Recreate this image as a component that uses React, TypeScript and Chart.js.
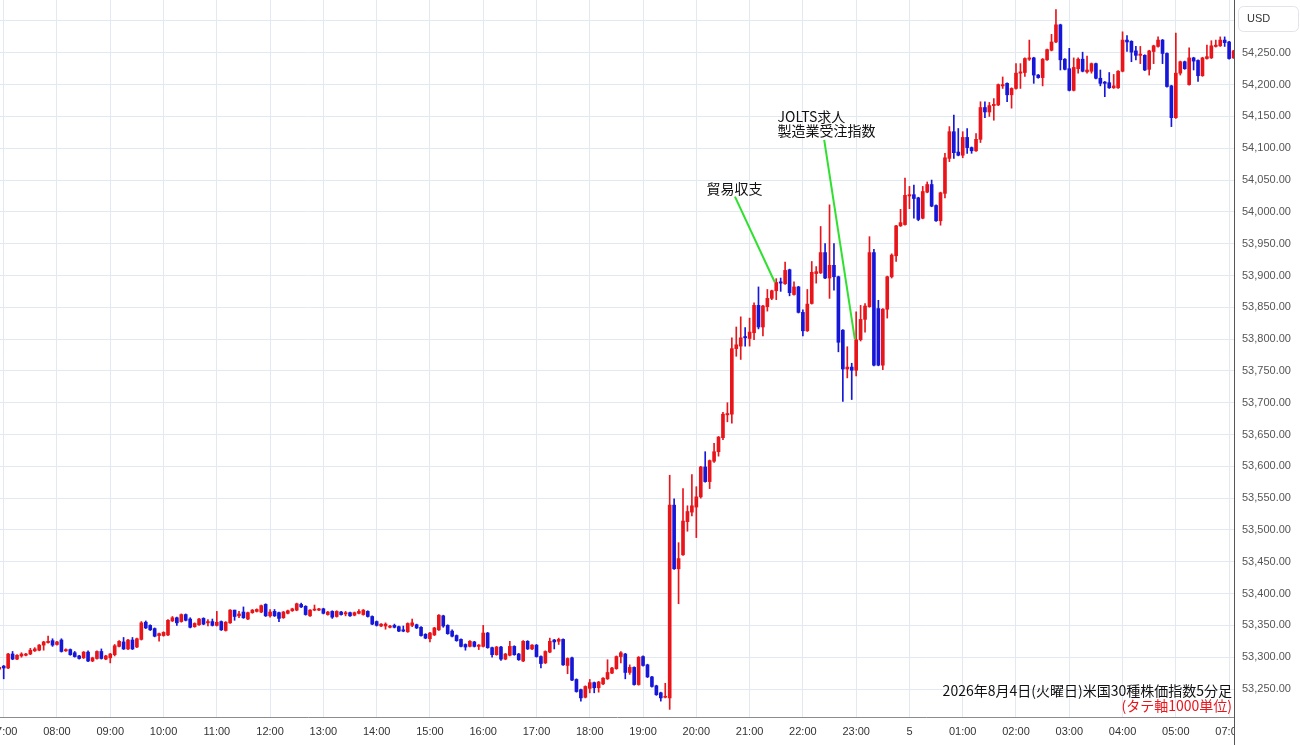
import React, { useEffect, useRef } from 'react';
import { Chart, registerables } from 'chart.js';

Chart.register(...registerables);

// 5-minute bars of the US 30 index, first bar = 06:55 (bar number -1 relative to 07:00)
const FIRST_BAR = -1;

const opens = [
  53281, 53286, 53283, 53305, 53297, 53302, 53303, 53305, 53310, 53311,
  53319, 53323, 53326, 53320, 53327, 53310, 53312, 53307, 53302, 53299,
  53308, 53294, 53298, 53309, 53297, 53299, 53304, 53317, 53324, 53313,
  53327, 53316, 53328, 53355, 53350, 53345, 53334, 53334, 53335, 53357,
  53362, 53356, 53367, 53360, 53348, 53351, 53361, 53354, 53356, 53350,
  53356, 53342, 53354, 53374, 53365, 53371, 53360, 53370, 53372, 53371,
  53383, 53365, 53372, 53370, 53362, 53369, 53373, 53374, 53383, 53380,
  53365, 53374, 53374, 53376, 53367, 53372, 53364, 53371, 53368, 53370,
  53366, 53369, 53367, 53372, 53364, 53356, 53349, 53349, 53347, 53350,
  53348, 53343, 53340, 53350, 53351, 53347, 53336, 53329, 53335, 53343,
  53365, 53350, 53341, 53334, 53328, 53320, 53317, 53324, 53317, 53317,
  53338, 53315, 53304, 53316, 53297, 53303, 53317, 53305, 53294, 53325,
  53313, 53319, 53301, 53291, 53308, 53327, 53325, 53328, 53287, 53299,
  53265, 53249, 53237, 53251, 53260, 53252, 53258, 53266, 53275, 53282,
  53301, 53305, 53276, 53284, 53257, 53301, 53288, 53269, 53255, 53244,
  53237, 53236, 53539, 53439, 53461, 53513, 53528, 53536, 53552, 53599,
  53576, 53608, 53623, 53645, 53681, 53682, 53785, 53789, 53804, 53801,
  53810, 53853, 53819, 53851, 53864, 53876, 53890, 53887, 53909, 53870,
  53882, 53842, 53813, 53856, 53903, 53904, 53936, 53896, 53916, 53898,
  53814, 53753, 53756, 53751, 53799, 53831, 53851, 53936, 53848, 53759,
  53847, 53898, 53931, 53978, 53980, 54025, 54027, 54022, 53990, 54031,
  54043, 54010, 53986, 54029, 54084, 54126, 54094, 54089, 54117, 54101,
  54096, 54114, 54164, 54157, 54167, 54168, 54198, 54202, 54184, 54194,
  54218, 54219, 54240, 54242, 54215, 54211, 54239, 54254, 54267, 54294,
  54240, 54225, 54191, 54225, 54240, 54220, 54221, 54233, 54210, 54204,
  54203, 54195, 54195, 54221, 54270, 54268, 54253, 54246, 54246, 54224,
  54252, 54260, 54270, 54249, 54198, 54148, 54218, 54236, 54200, 54242,
  54238, 54214, 54241, 54242, 54260, 54261, 54270, 54267, 54242,
];

const highs = [
  53285, 53287, 53306, 53309, 53304, 53307, 53306, 53314, 53315, 53320,
  53325, 53333, 53329, 53325, 53329, 53313, 53313, 53309, 53303, 53309,
  53310, 53300, 53310, 53313, 53303, 53306, 53320, 53326, 53331, 53328,
  53331, 53330, 53356, 53357, 53351, 53346, 53338, 53340, 53359, 53364,
  53363, 53368, 53368, 53362, 53354, 53361, 53362, 53359, 53360, 53372,
  53357, 53356, 53375, 53374, 53372, 53379, 53371, 53375, 53376, 53382,
  53384, 53375, 53375, 53371, 53372, 53374, 53377, 53385, 53385, 53381,
  53375, 53382, 53377, 53377, 53372, 53373, 53373, 53372, 53372, 53371,
  53371, 53375, 53375, 53373, 53365, 53357, 53353, 53354, 53350, 53352,
  53349, 53349, 53354, 53360, 53352, 53348, 53337, 53339, 53347, 53367,
  53366, 53351, 53343, 53335, 53329, 53321, 53326, 53325, 53320, 53350,
  53339, 53316, 53317, 53317, 53306, 53325, 53318, 53306, 53326, 53326,
  53320, 53320, 53302, 53310, 53330, 53328, 53330, 53329, 53299, 53300,
  53266, 53250, 53255, 53265, 53261, 53262, 53268, 53296, 53284, 53302,
  53309, 53306, 53288, 53285, 53301, 53302, 53289, 53270, 53256, 53245,
  53259, 53586, 53549, 53480, 53565, 53538, 53587, 53568, 53600, 53623,
  53610, 53636, 53647, 53685, 53700, 53802, 53819, 53835, 53818, 53833,
  53857, 53882, 53853, 53878, 53877, 53895, 53896, 53921, 53910, 53890,
  53883, 53846, 53878, 53922, 53914, 53977, 53950, 54011, 53950, 53899,
  53815, 53788, 53762, 53843, 53853, 53856, 53961, 53941, 53861, 53848,
  53899, 53934, 53979, 54004, 54053, 54040, 54042, 54023, 54040, 54047,
  54050, 54011, 54031, 54092, 54134, 54152, 54131, 54126, 54131, 54102,
  54123, 54173, 54173, 54172, 54178, 54201, 54212, 54203, 54195, 54233,
  54233, 54242, 54270, 54243, 54216, 54241, 54256, 54279, 54318, 54295,
  54241, 54257, 54242, 54242, 54251, 54245, 54234, 54234, 54223, 54205,
  54219, 54216, 54222, 54283, 54277, 54269, 54260, 54260, 54247, 54254,
  54262, 54275, 54271, 54250, 54199, 54281, 54237, 54237, 54258, 54243,
  54239, 54243, 54262, 54269, 54270, 54275, 54275, 54268, 54254,
];

const lows = [
  53280, 53266, 53282, 53296, 53296, 53300, 53302, 53304, 53309, 53310,
  53311, 53322, 53317, 53319, 53308, 53309, 53303, 53300, 53297, 53298,
  53293, 53293, 53297, 53297, 53296, 53291, 53302, 53316, 53312, 53312,
  53312, 53315, 53327, 53345, 53342, 53332, 53325, 53333, 53334, 53356,
  53350, 53355, 53357, 53346, 53347, 53350, 53351, 53349, 53349, 53349,
  53342, 53341, 53353, 53358, 53362, 53361, 53359, 53369, 53371, 53370,
  53364, 53363, 53364, 53356, 53361, 53368, 53372, 53373, 53378, 53366,
  53364, 53373, 53373, 53368, 53366, 53361, 53363, 53366, 53365, 53364,
  53365, 53368, 53366, 53363, 53351, 53349, 53348, 53344, 53346, 53346,
  53340, 53340, 53339, 53348, 53345, 53333, 53329, 53324, 53334, 53342,
  53347, 53336, 53332, 53325, 53316, 53311, 53316, 53316, 53312, 53316,
  53314, 53300, 53303, 53295, 53296, 53302, 53303, 53295, 53293, 53312,
  53312, 53300, 53283, 53290, 53307, 53313, 53320, 53287, 53274, 53263,
  53245, 53231, 53236, 53244, 53244, 53245, 53257, 53265, 53274, 53281,
  53291, 53266, 53273, 53256, 53256, 53286, 53268, 53253, 53240, 53231,
  53236, 53218, 53438, 53384, 53460, 53498, 53522, 53488, 53550, 53575,
  53565, 53606, 53616, 53642, 53670, 53668, 53773, 53768, 53789, 53789,
  53799, 53816, 53805, 53844, 53862, 53862, 53875, 53886, 53868, 53869,
  53841, 53805, 53812, 53855, 53888, 53903, 53895, 53864, 53877, 53780,
  53702, 53739, 53705, 53742, 53797, 53811, 53850, 53758, 53758, 53752,
  53833, 53896, 53922, 53977, 53979, 54005, 53990, 53986, 53989, 54030,
  54008, 53985, 53979, 54022, 54079, 54084, 54088, 54085, 54092, 54092,
  54095, 54109, 54148, 54150, 54144, 54167, 54194, 54173, 54163, 54193,
  54194, 54213, 54238, 54202, 54210, 54198, 54238, 54253, 54266, 54223,
  54223, 54190, 54190, 54218, 54220, 54218, 54218, 54209, 54198, 54181,
  54194, 54194, 54194, 54220, 54252, 54236, 54239, 54233, 54222, 54215,
  54233, 54259, 54233, 54196, 54134, 54147, 54215, 54224, 54199, 54223,
  54205, 54213, 54240, 54241, 54259, 54260, 54260, 54240, 54241,
];

const closes = [
  53284, 53283, 53305, 53297, 53303, 53305, 53305, 53311, 53313, 53319,
  53324, 53325, 53319, 53324, 53309, 53312, 53304, 53301, 53298, 53308,
  53294, 53299, 53309, 53298, 53302, 53305, 53318, 53325, 53313, 53327,
  53313, 53329, 53354, 53346, 53343, 53333, 53337, 53339, 53358, 53362,
  53354, 53367, 53358, 53347, 53353, 53360, 53352, 53356, 53350, 53355,
  53343, 53355, 53374, 53364, 53368, 53362, 53370, 53374, 53375, 53381,
  53365, 53371, 53365, 53361, 53371, 53373, 53376, 53384, 53379, 53367,
  53374, 53375, 53376, 53369, 53371, 53363, 53372, 53367, 53370, 53365,
  53370, 53372, 53374, 53364, 53352, 53350, 53352, 53352, 53349, 53347,
  53341, 53341, 53353, 53354, 53346, 53334, 53330, 53338, 53346, 53366,
  53349, 53337, 53333, 53326, 53317, 53316, 53325, 53317, 53319, 53338,
  53315, 53304, 53316, 53297, 53305, 53317, 53304, 53296, 53325, 53313,
  53319, 53301, 53290, 53309, 53325, 53324, 53328, 53288, 53298, 53264,
  53246, 53236, 53254, 53260, 53252, 53261, 53267, 53276, 53283, 53301,
  53307, 53276, 53284, 53257, 53300, 53287, 53269, 53254, 53241, 53236,
  53238, 53539, 53439, 53455, 53514, 53529, 53538, 53552, 53599, 53576,
  53609, 53623, 53646, 53682, 53683, 53785, 53791, 53802, 53802, 53811,
  53853, 53819, 53852, 53864, 53876, 53889, 53888, 53908, 53873, 53882,
  53842, 53813, 53855, 53905, 53906, 53936, 53896, 53916, 53898, 53795,
  53753, 53756, 53751, 53799, 53831, 53852, 53936, 53759, 53759, 53847,
  53898, 53932, 53978, 53983, 54026, 54027, 54021, 53988, 54032, 54043,
  54009, 53986, 54030, 54085, 54126, 54093, 54089, 54117, 54101, 54096,
  54114, 54164, 54157, 54167, 54169, 54200, 54200, 54184, 54194, 54218,
  54220, 54241, 54242, 54215, 54211, 54240, 54255, 54267, 54294, 54239,
  54224, 54191, 54227, 54240, 54221, 54223, 54233, 54210, 54202, 54202,
  54195, 54198, 54221, 54270, 54267, 54251, 54246, 54248, 54223, 54253,
  54261, 54270, 54249, 54197, 54148, 54218, 54236, 54225, 54242, 54237,
  54214, 54242, 54244, 54261, 54262, 54270, 54266, 54241, 54253,
];

// time axis: bar number (from 07:00) of each labelled hour, and its label
const hourBars = [0, 12, 24, 36, 48, 60, 72, 84, 96, 108, 120, 132, 144, 156, 168, 180, 192, 204, 216, 228, 240, 252, 264, 276];
const hourLabels = [
  '07:00', '08:00', '09:00', '10:00', '11:00', '12:00', '13:00', '14:00', '15:00', '16:00',
  '17:00', '18:00', '19:00', '20:00', '21:00', '22:00', '23:00', '5', '01:00', '02:00',
  '03:00', '04:00', '05:00', '07:00',
];

const priceTicks = [
  53250, 53300, 53350, 53400, 53450, 53500, 53550, 53600, 53650, 53700, 53750,
  53800, 53850, 53900, 53950, 54000, 54050, 54100, 54150, 54200, 54250, 54300,
];

// event notes in data coordinates (bar number, price)
const eventNotes = [
  { lines: ['貿易収支'], labelBar: 158.3, labelPrice: 54037, fromBar: 164.7, fromPrice: 54024, toBar: 173.7, toPrice: 53889 },
  { lines: ['JOLTS求人', '製造業受注指数'], labelBar: 174.3, labelPrice: 54150, fromBar: 184.8, fromPrice: 54113, toBar: 191.7, toPrice: 53800 },
];

const titleText = '2026年8月4日(火曜日)米国30種株価指数5分足';
const subTitleText = '(タテ軸1000単位)';
const currencyText = 'USD';

const UP = '#e8151b';
const DOWN = '#1717d8';
const GRID = '#e3e9f0';
const AXIS_FONT = '"Liberation Sans", Arial, sans-serif';
const JP_FONT = '"Noto Sans CJK JP", sans-serif';

export default function App() {
  const ref = useRef<HTMLCanvasElement | null>(null);

  useEffect(() => {
    document.body.style.margin = '0';
    const canvas = ref.current;
    if (!canvas) return;

    const colors = opens.map((o, i) => (closes[i] >= o ? UP : DOWN));
    const wickData = opens.map((_, i) => ({ x: i + FIRST_BAR, y: [lows[i], highs[i]] }));
    const bodyData = opens.map((o, i) => ({ x: i + FIRST_BAR, y: [o, closes[i]] }));

    const overlay = {
      id: 'overlay',
      beforeDraw(chart: any) {
        const { ctx, width, height } = chart;
        ctx.save();
        ctx.fillStyle = '#ffffff';
        ctx.fillRect(0, 0, width, height);
        ctx.restore();
      },
      afterDraw(chart: any) {
        const { ctx, chartArea, scales, width, height } = chart;
        const xs = scales.x;
        const ys = scales.y;
        ctx.save();

        // event notes
        for (const n of eventNotes) {
          ctx.strokeStyle = '#2fe02f';
          ctx.lineWidth = 2;
          ctx.beginPath();
          ctx.moveTo(xs.getPixelForValue(n.fromBar), ys.getPixelForValue(n.fromPrice));
          ctx.lineTo(xs.getPixelForValue(n.toBar), ys.getPixelForValue(n.toPrice));
          ctx.stroke();
          ctx.font = '14px ' + JP_FONT;
          ctx.fillStyle = '#111111';
          ctx.textAlign = 'left';
          ctx.textBaseline = 'middle';
          const lx = xs.getPixelForValue(n.labelBar);
          const ly = ys.getPixelForValue(n.labelPrice);
          n.lines.forEach((t, i) => ctx.fillText(t, lx, ly + i * 14));
        }

        // title at bottom right
        ctx.textAlign = 'right';
        ctx.textBaseline = 'middle';
        ctx.font = '14px ' + JP_FONT;
        ctx.fillStyle = '#111111';
        ctx.fillText(titleText, chartArea.right - 2, chartArea.bottom - 26);
        ctx.font = '14px ' + JP_FONT;
        ctx.fillStyle = UP;
        ctx.fillText(subTitleText, chartArea.right - 2, chartArea.bottom - 11);

        // clip the time labels at the price axis
        ctx.fillStyle = '#ffffff';
        ctx.fillRect(chartArea.right + 1, chartArea.bottom + 1, width - chartArea.right, height - chartArea.bottom);
        ctx.strokeStyle = '#555555';
        ctx.lineWidth = 1;
        ctx.beginPath();
        ctx.moveTo(chartArea.right + 0.5, 0);
        ctx.lineTo(chartArea.right + 0.5, height);
        ctx.stroke();

        // currency box
        const bx = chartArea.right + 4;
        ctx.fillStyle = '#ffffff';
        ctx.strokeStyle = '#e2e4ea';
        ctx.beginPath();
        ctx.roundRect(bx + 0.5, 6.5, width - bx - 2, 25, 5);
        ctx.fill();
        ctx.stroke();
        ctx.fillStyle = '#333333';
        ctx.font = '11px ' + AXIS_FONT;
        ctx.textAlign = 'left';
        ctx.fillText(currencyText, bx + 9, 18.5);
        ctx.restore();
      },
    };

    const chart = new Chart(canvas, {
      type: 'bar',
      data: {
        datasets: [
          {
            data: wickData as any,
            backgroundColor: colors,
            barThickness: 1,
            grouped: false,
            clip: 0,
            borderWidth: 0,
          } as any,
          {
            data: bodyData as any,
            backgroundColor: colors,
            barThickness: 3,
            minBarLength: 1,
            grouped: false,
            clip: 0,
            borderWidth: 0,
          } as any,
        ],
      },
      options: {
        animation: false,
        responsive: false,
        devicePixelRatio: 1,
        events: [],
        layout: { padding: 0 },
        plugins: { legend: { display: false }, tooltip: { enabled: false } },
        scales: {
          x: {
            type: 'linear',
            bounds: 'data',
            min: -0.833,
            max: 277.1,
            offset: false,
            grid: { color: GRID, offset: false, drawTicks: false },
            border: { display: true, color: '#8c8c8c', width: 1 },
            ticks: {
              autoSkip: false,
              maxRotation: 0,
              padding: 8,
              color: '#333333',
              font: { family: AXIS_FONT, size: 11 },
              callback: (_v: any, i: number) => hourLabels[i],
            },
            afterBuildTicks: (scale: any) => {
              scale.ticks = hourBars.map((v) => ({ value: v }));
            },
            afterFit: (scale: any) => {
              scale.height = 28;
              scale.paddingLeft = 0;
              scale.paddingRight = 0;
            },
          } as any,
          y: {
            type: 'linear',
            position: 'right',
            bounds: 'data',
            min: 53206,
            max: 54333,
            grid: { color: GRID, drawTicks: false },
            border: { display: true, color: '#555555', width: 1 },
            ticks: {
              padding: 8,
              color: '#555555',
              font: { family: AXIS_FONT, size: 11 },
              callback: (v: any) =>
                Number(v).toLocaleString('en-US', { minimumFractionDigits: 2, maximumFractionDigits: 2 }),
            },
            afterBuildTicks: (scale: any) => {
              scale.ticks = priceTicks.map((v) => ({ value: v }));
            },
            afterFit: (scale: any) => {
              scale.width = 66;
              scale.paddingTop = 0;
              scale.paddingBottom = 0;
            },
          } as any,
        },
      },
      plugins: [overlay],
    });

    return () => chart.destroy();
  }, []);

  return (
    <div style={{ position: 'absolute', left: 0, top: 0, width: 1300, height: 745, background: '#fff' }}>
      <canvas ref={ref} width={1300} height={745} style={{ display: 'block', width: 1300, height: 745 }} />
    </div>
  );
}
